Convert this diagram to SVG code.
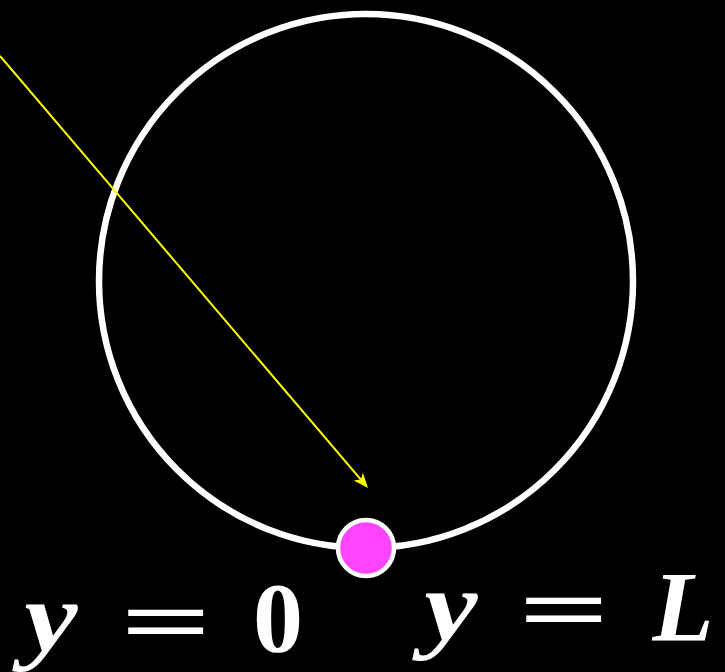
<svg xmlns="http://www.w3.org/2000/svg" width="725" height="672" viewBox="0 0 725 672">
  <style>
    .lbl { font-family: "Liberation Serif", "DejaVu Serif", serif; font-size: 100px; font-weight: bold; fill: #ffffff; text-anchor: middle; }
    .eq { font-size: 92px; }
    .it { font-style: italic; }
  </style>
  <defs>
    <marker id="ah" markerUnits="userSpaceOnUse" markerWidth="20" markerHeight="16" refX="0" refY="0" viewBox="-6 -8 20 16" orient="auto" overflow="visible">
      <path d="M11,0 L-4,-6 L0,0 L-4,6 Z" fill="#ffff00"/>
    </marker>
  </defs>
  <rect x="0" y="0" width="725" height="672" fill="#000000"/>
  <g id="ring">
    <circle cx="366" cy="281" r="267" fill="none" stroke="#ffffff" stroke-width="6.5"/>
  </g>
  <g id="connectors">
    <line x1="0" y1="56" x2="360.9" y2="479.6" stroke="#ffff00" stroke-width="2" marker-end="url(#ah)"/>
  </g>
  <g id="point">
    <circle cx="366" cy="548" r="28" fill="#ff44ff" stroke="#ffffff" stroke-width="4.5"/>
  </g>
  <g id="label-y0">
    <text class="lbl it" transform="translate(51,651) scale(1.2,1)">y</text>
    <text class="lbl eq" transform="translate(166,652) scale(1.75,1)">=</text>
    <text class="lbl" x="278" y="651">0</text>
  </g>
  <g id="label-yL">
    <text class="lbl it" transform="translate(451,640) scale(1.2,1)">y</text>
    <text class="lbl eq" transform="translate(564,640) scale(1.75,1)">=</text>
    <text class="lbl it" x="683" y="640">L</text>
  </g>
</svg>
